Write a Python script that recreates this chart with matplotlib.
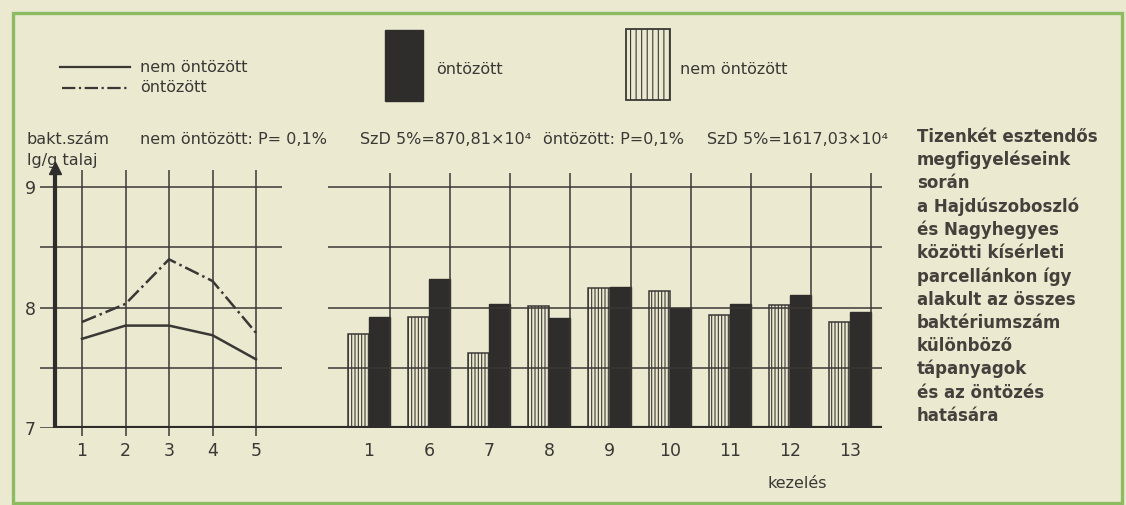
import numpy as np
import matplotlib.pyplot as plt
from matplotlib.patches import Rectangle

# left panel: lg bacteria count / g soil, plots 1-5
line_x = [1, 2, 3, 4, 5]
nem_ontozott_line = [7.74, 7.85, 7.85, 7.77, 7.57]
ontozott_line = [7.88, 8.03, 8.40, 8.22, 7.79]

# right panel: treatments (kezelés)
kezeles = ["1", "6", "7", "8", "9", "10", "11", "12", "13"]
nem_ontozott_bar = [7.78, 7.92, 7.62, 8.01, 8.16, 8.14, 7.94, 8.02, 7.88]
ontozott_bar = [7.92, 8.24, 8.03, 7.91, 8.17, 8.00, 8.03, 8.10, 7.96]

y_ticks = [7, 8, 9]
y_grid = [7, 7.5, 8, 8.5, 9]

stat_texts = ["nem öntözött: P= 0,1%", "SzD 5%=870,81×10⁴",
              "öntözött: P=0,1%", "SzD 5%=1617,03×10⁴"]

note_lines = ["Tizenkét esztendős", "megfigyeléseink", "során",
              "a Hajdúszoboszló", "és Nagyhegyes", "közötti kísérleti",
              "parcellánkon így", "alakult az összes", "baktériumszám",
              "különböző", "tápanyagok", "és az öntözés", "hatására"]

BG = "#ece9d1"
INK = "#3a3835"
DARK = "#2f2d2b"
GREEN = "#8cbb62"
FS = 11.5

plt.rcParams["hatch.linewidth"] = 0.8
plt.rcParams["font.family"] = ["DejaVu Sans"]

W, H = 1126, 505
fig = plt.figure(figsize=(W / 100, H / 100), dpi=100)
fig.patch.set_facecolor(BG)


def px_axes(x0, y0, x1, y1):
    return fig.add_axes([x0 / W, 1 - y1 / H, (x1 - x0) / W, (y1 - y0) / H])


# overlay in pixel coordinates for border, legends and texts
ov = fig.add_axes([0, 0, 1, 1])
ov.set_xlim(0, W)
ov.set_ylim(H, 0)
ov.axis("off")
ov.add_patch(Rectangle((13, 13), 1109, 490, fill=False, ec=GREEN, lw=2.4))

dashdot = (0, (6, 1.6, 1, 1.6))
ov.plot([60, 130], [67, 67], color=INK, lw=1.6)
ov.plot([62, 130], [88, 88], color=INK, lw=1.6, ls=dashdot)
ov.text(140, 67, "nem öntözött", fontsize=FS, color=INK, va="center")
ov.text(140, 88, "öntözött", fontsize=FS, color=INK, va="center")

ov.add_patch(Rectangle((385, 30), 38, 71, fc=DARK, ec=DARK, lw=1))
ov.text(436, 70, "öntözött", fontsize=FS, color=INK, va="center")
ov.add_patch(Rectangle((626, 29), 44, 71, fc=BG, ec=INK, lw=1.3, hatch="|||"))
ov.text(680, 70, "nem öntözött", fontsize=FS, color=INK, va="center")

ov.text(27, 139, "bakt.szám", fontsize=FS, color=INK, va="center")
ov.text(27, 161, "lg/g talaj", fontsize=FS, color=INK, va="center")
for x, s in zip([140, 360, 543, 707], stat_texts):
    ov.text(x, 139, s, fontsize=FS, color=INK, va="center")
ov.text(797, 483, "kezelés", fontsize=FS, color=INK, ha="center", va="center")

for i, s in enumerate(note_lines):
    ov.text(917, 142 + i * 23.25, s, fontsize=12, weight="bold",
            color="#45403b", va="baseline")

# ---- left panel: line chart
ax = px_axes(40, 165, 328, 428)
xl = (0.0345, 6.655)
ax.set_xlim(*xl)
ax.set_ylim(7, 9.183)
ax.patch.set_visible(False)
for sp in ax.spines.values():
    sp.set_visible(False)
y_axis_x = 0.379
ax.hlines(y_grid, xl[0], 5.598, color=INK, lw=1.1)
ax.vlines(line_x, 6.93, 9.14, color=INK, lw=1.1, clip_on=False)
ax.plot([y_axis_x, y_axis_x], [7, 9.1], color=DARK, lw=3, solid_capstyle="butt")
ax.plot([y_axis_x], [9.16], marker="^", ms=9, color=DARK, clip_on=False)
ax.hlines(7, y_axis_x, xl[1], color=DARK, lw=3)
ax.plot(line_x, nem_ontozott_line, color=INK, lw=1.8)
ax.plot(line_x, ontozott_line, color=INK, lw=1.8, ls=dashdot)
ax.set_yticks(y_ticks)
ax.set_xticks(line_x)
ax.tick_params(length=0, labelsize=FS + 1, labelcolor=INK)
ax.tick_params(axis="y", pad=3)
ax.tick_params(axis="x", pad=10)

# ---- right panel: bars
bx = px_axes(328, 165, 882, 428)
bl = (-0.68, 8.53)
bx.set_xlim(*bl)
bx.set_ylim(7, 9.183)
bx.patch.set_visible(False)
for sp in bx.spines.values():
    sp.set_visible(False)
pos = np.arange(len(kezeles))
w = 0.35
bx.hlines(y_grid[1:], bl[0], bl[1], color=INK, lw=1.1)
bx.vlines(pos + w, 7, 9.116, color=INK, lw=1.1)
bx.bar(pos - w / 2, np.array(nem_ontozott_bar) - 7, bottom=7, width=w,
       facecolor=BG, edgecolor=INK, hatch="|||||", lw=1.1)
bx.bar(pos + w / 2, np.array(ontozott_bar) - 7, bottom=7, width=w,
       color=DARK, edgecolor=DARK, lw=1)
bx.hlines(7, bl[0], bl[1], color=DARK, lw=3)
bx.set_xticks(pos)
bx.set_xticklabels(kezeles)
bx.set_yticks([])
bx.tick_params(length=0, labelsize=FS + 1, labelcolor=INK, pad=10)

fig.savefig("out.png", dpi=100, facecolor=BG)
